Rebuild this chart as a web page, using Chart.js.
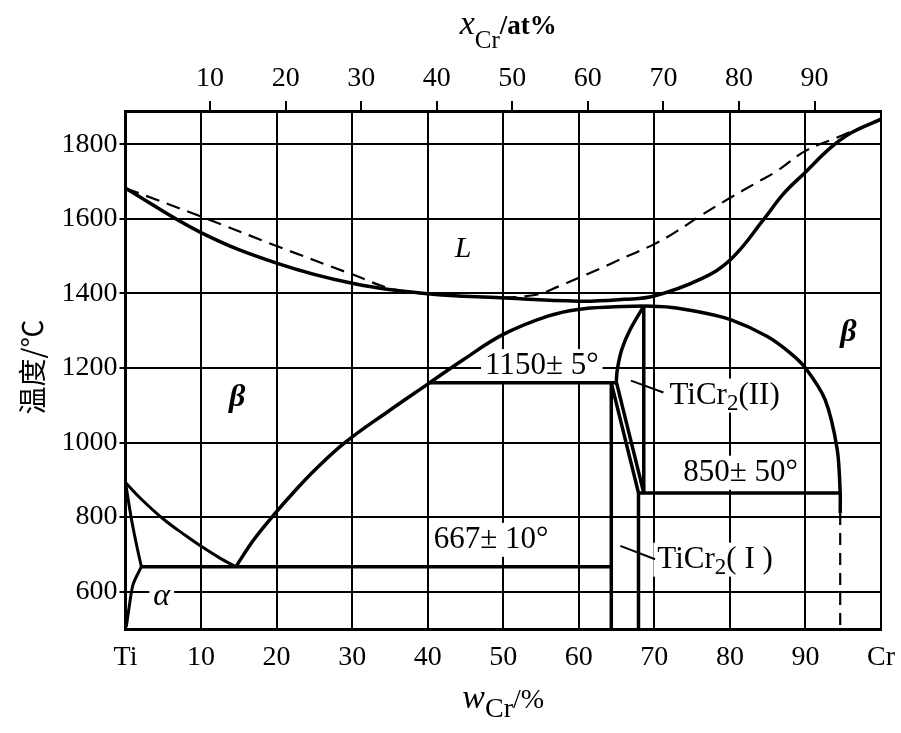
<!DOCTYPE html>
<html>
<head>
<meta charset="utf-8">
<script src="https://cdn.jsdelivr.net/npm/chart.js@4/dist/chart.umd.min.js"></script>
<style>
  html, body { margin: 0; padding: 0; background: #fff; }
  #wrap { width: 901px; height: 733px; }
</style>
</head>
<body>
<div id="wrap"><canvas id="phase" width="901" height="733"></canvas></div>
<script>
// Ti-Cr phase diagram: x = w(Cr) %, y = temperature in C
var wtTicks = [0, 10, 20, 30, 40, 50, 60, 70, 80, 90, 100];
var atTicks = [10, 20, 30, 40, 50, 60, 70, 80, 90];
var tempTicks = [600, 800, 1000, 1200, 1400, 1600, 1800];

var liquidusSolid = [[0, 1682], [10, 1563], [20, 1481], [30, 1427], [40, 1399], [49.6, 1388],
    [60, 1379], [66, 1384], [70, 1393], [76.1, 1438], [80.1, 1491], [84.5, 1599],
    [87, 1665], [90, 1725], [93.3, 1790], [96, 1830], [100, 1867]];
var liquidusDashed = [[0, 1682], [10, 1606], [20, 1527], [30, 1451], [35.4, 1411], [40, 1399],
    [47, 1390], [54, 1395], [57.5, 1420], [60, 1442], [62.8, 1466], [65, 1487], [70, 1532],
    [73, 1567], [76.1, 1608], [80.1, 1657], [83.2, 1693], [86.3, 1729], [90, 1782], [94.2, 1818], [100, 1867]];
var betaTransus = [[0, 893], [2, 850], [5, 795], [8, 750], [10, 722], [12.5, 690], [14.6, 667]];
var alphaUpper = [[0, 893], [0.8, 793], [1.5, 722], [2.1, 667]];
var alphaLower = [[2.1, 667], [1.0, 619], [0.5, 561], [0.1, 505]];
var eutectoid = [[2.1, 667], [64.3, 667]];
var betaSolvus = [[14.6, 667], [17, 740], [19.8, 810], [22.5, 872], [25, 925], [29, 999], [34.8, 1084],
    [40.1, 1158], [44.7, 1222], [50, 1290], [55.9, 1339], [59.9, 1357], [64.8, 1364], [68.6, 1366]];
var betaRight = [[68.6, 1366], [72, 1363], [76, 1350], [80, 1330], [84.9, 1285], [88, 1240],
    [90, 1200], [92.6, 1115], [94.2, 982], [94.6, 865], [94.6, 811]];
var betaRightDashed = [[94.6, 811], [94.6, 500]];
var tiCr2Arc = [[68.6, 1366], [66.8, 1303], [65.7, 1250], [65.1, 1196], [64.95, 1160]];
var line1150 = [[40, 1160], [65, 1160]];
var line850 = [[67.9, 865], [94.6, 865]];
var vertLeft = [[64.3, 1160], [64.3, 500]];
var slantA = [[64.3, 1160], [67.9, 865], [67.9, 500]];
var slantB = [[65.0, 1160], [68.6, 865]];
var vertPeak = [[68.6, 1366], [68.6, 865]];
var leaderII = [[66.9, 1166], [71.2, 1134]];
var leaderI = [[65.5, 723], [70.1, 687]];

var SERIF = '"Liberation Serif", "Times New Roman", serif';

function pts(arr) {
    return arr.map(function (p) { return { x: p[0], y: p[1] }; });
}

function ds(arr, opts) {
    var d = {
        data: pts(arr),
        showLine: true,
        borderColor: '#000',
        borderWidth: 3.5,
        pointRadius: 0,
        fill: false,
        tension: 0,
        xAxisID: 'x',
        yAxisID: 'y'
    };
    for (var k in opts) { d[k] = opts[k]; }
    return d;
}

// text labels inside the plot, placed in data coordinates
var labels = [
    { x: 44.7, y: 1518, parts: [{ t: 'L', f: 'italic 30px ' + SERIF }], align: 'center' },
    { x: 14.8, y: 1121, parts: [{ t: 'β', f: 'bold italic 32px ' + SERIF }], align: 'center' },
    { x: 95.7, y: 1295, parts: [{ t: 'β', f: 'bold italic 32px ' + SERIF }], align: 'center' },
    { x: 4.8, y: 587, parts: [{ t: 'α', f: 'italic 32px ' + SERIF }], align: 'center', box: true },
    { x: 55.1, y: 1205, parts: [{ t: '1150± 5°', f: '31px ' + SERIF }], align: 'center', box: true },
    { x: 81.4, y: 919, parts: [{ t: '850± 50°', f: '31px ' + SERIF }], align: 'center', box: true },
    { x: 48.4, y: 739, parts: [{ t: '667± 10°', f: '31px ' + SERIF }], align: 'center', box: true },
    { x: 72.0, y: 1126, parts: [{ t: 'TiCr', f: '31px ' + SERIF }, { t: '2', f: '23px ' + SERIF, dy: 8 },
        { t: '(II)', f: '31px ' + SERIF }], align: 'left', box: true },
    { x: 70.4, y: 686, parts: [{ t: 'TiCr', f: '31px ' + SERIF }, { t: '2', f: '23px ' + SERIF, dy: 8 },
        { t: '( I )', f: '31px ' + SERIF }], align: 'left', box: true }
];

function drawRich(ctx, parts, x, y, align, box) {
    var w = 0;
    parts.forEach(function (p) { ctx.font = p.f; p.w = ctx.measureText(p.t).width; w += p.w; });
    var sx = align === 'center' ? x - w / 2 : x;
    if (box) {
        ctx.fillStyle = '#fff';
        ctx.fillRect(sx - 4, y - 17, w + 8, 34);
    }
    ctx.fillStyle = '#000';
    ctx.textBaseline = 'middle';
    ctx.textAlign = 'left';
    var cx = sx;
    parts.forEach(function (p) {
        ctx.font = p.f;
        ctx.fillText(p.t, cx, y + (p.dy || 0));
        cx += p.w;
    });
}

var textPlugin = {
    id: 'phaseText',
    beforeDatasetsDraw: function (chart) {
        var ctx = chart.ctx;
        var sx = chart.scales.x, sy = chart.scales.y;
        ctx.save();
        labels.forEach(function (l) {
            drawRich(ctx, l.parts, sx.getPixelForValue(l.x), sy.getPixelForValue(l.y), l.align, l.box);
        });
        ctx.restore();
    },
    afterDraw: function (chart) {
        var ctx = chart.ctx;
        var area = chart.chartArea;
        var mid = (area.left + area.right) / 2 + 5;
        ctx.save();
        ctx.fillStyle = '#000';
        ctx.textBaseline = 'alphabetic';
        // top axis title
        var top = [{ t: 'x', f: 'italic 34px ' + SERIF }, { t: 'Cr', f: '25px ' + SERIF, dy: 14 },
            { t: '/at%', f: 'bold 27px ' + SERIF }];
        var w = 0;
        top.forEach(function (p) { ctx.font = p.f; p.w = ctx.measureText(p.t).width; w += p.w; });
        var cx = mid - w / 2;
        top.forEach(function (p) { ctx.font = p.f; ctx.fillText(p.t, cx, 34 + (p.dy || 0)); cx += p.w; });
        // bottom axis title
        var bot = [{ t: 'w', f: 'italic 34px ' + SERIF }, { t: 'Cr', f: '28px ' + SERIF, dy: 9 },
            { t: '/%', f: '28px ' + SERIF }];
        w = 0;
        bot.forEach(function (p) { ctx.font = p.f; p.w = ctx.measureText(p.t).width; w += p.w; });
        cx = mid - w / 2 - 5;
        bot.forEach(function (p) { ctx.font = p.f; ctx.fillText(p.t, cx, 708 + (p.dy || 0)); cx += p.w; });
        // y axis title
        ctx.translate(32, 367);
        ctx.rotate(-Math.PI / 2);
        ctx.textAlign = 'center';
        ctx.textBaseline = 'middle';
        ctx.font = '28px "Noto Sans CJK SC", sans-serif';
        ctx.fillText('温度/℃', 0, 0);
        ctx.restore();
    }
};

var tickFont = { family: SERIF, size: 28 };

function noSidePad(s) {
    s.paddingLeft = 0;
    s.paddingRight = 0;
}

new Chart(document.getElementById('phase').getContext('2d'), {
    type: 'scatter',
    data: {
        datasets: [
            ds(liquidusSolid, { tension: 0.4 }),
            ds(liquidusDashed, { tension: 0.4, borderWidth: 2.2, borderDash: [14, 8] }),
            ds(betaTransus, { tension: 0.4, borderWidth: 3 }),
            ds(alphaUpper, { tension: 0.3, borderWidth: 3 }),
            ds(alphaLower, { tension: 0.3, borderWidth: 3 }),
            ds(eutectoid, {}),
            ds(betaSolvus, { tension: 0.4 }),
            ds(betaRight, { tension: 0.3 }),
            ds(betaRightDashed, { borderWidth: 2.2, borderDash: [12, 8] }),
            ds(tiCr2Arc, { tension: 0.3 }),
            ds(line1150, {}),
            ds(line850, {}),
            ds(vertLeft, {}),
            ds(slantA, {}),
            ds(slantB, {}),
            ds(vertPeak, {}),
            ds(leaderII, { borderWidth: 2 }),
            ds(leaderI, { borderWidth: 2 })
        ]
    },
    options: {
        responsive: false,
        animation: false,
        layout: { padding: { left: 0, right: 20, top: 0, bottom: 0 } },
        plugins: { legend: { display: false }, tooltip: { enabled: false } },
        scales: {
            x: {
                type: 'linear', axis: 'x', position: 'bottom', min: 0, max: 100,
                afterBuildTicks: function (s) { s.ticks = wtTicks.map(function (v) { return { value: v }; }); },
                afterFit: function (s) { s.height = 104; noSidePad(s); },
                grid: { color: '#000', lineWidth: 2, drawTicks: false },
                border: { color: '#000', width: 3 },
                ticks: {
                    padding: 12, color: '#000', font: tickFont, maxRotation: 0, autoSkip: false,
                    callback: function (v) { return v === 0 ? 'Ti' : (v === 100 ? 'Cr' : String(v)); }
                }
            },
            xTop: {
                type: 'linear', axis: 'x', position: 'top', min: -1.2, max: 98.8,
                afterBuildTicks: function (s) { s.ticks = atTicks.map(function (v) { return { value: v }; }); },
                afterFit: function (s) { s.height = 111; noSidePad(s); },
                grid: { drawOnChartArea: false, color: '#000', lineWidth: 2, tickLength: 10 },
                border: { color: '#000', width: 3 },
                ticks: {
                    padding: 6, color: '#000', font: tickFont, maxRotation: 0, autoSkip: false,
                    callback: function (v) { return String(v); }
                }
            },
            y: {
                type: 'linear', position: 'left', min: 500, max: 1889,
                afterBuildTicks: function (s) { s.ticks = tempTicks.map(function (v) { return { value: v }; }); },
                afterFit: function (s) { s.width = 125.5; },
                grid: { color: '#000', lineWidth: 2, tickLength: 6 },
                border: { color: '#000', width: 3 },
                ticks: {
                    padding: 2, color: '#000', font: tickFont,
                    callback: function (v) { return String(v); }
                }
            }
        }
    },
    plugins: [textPlugin]
});
</script>
</body>
</html>
